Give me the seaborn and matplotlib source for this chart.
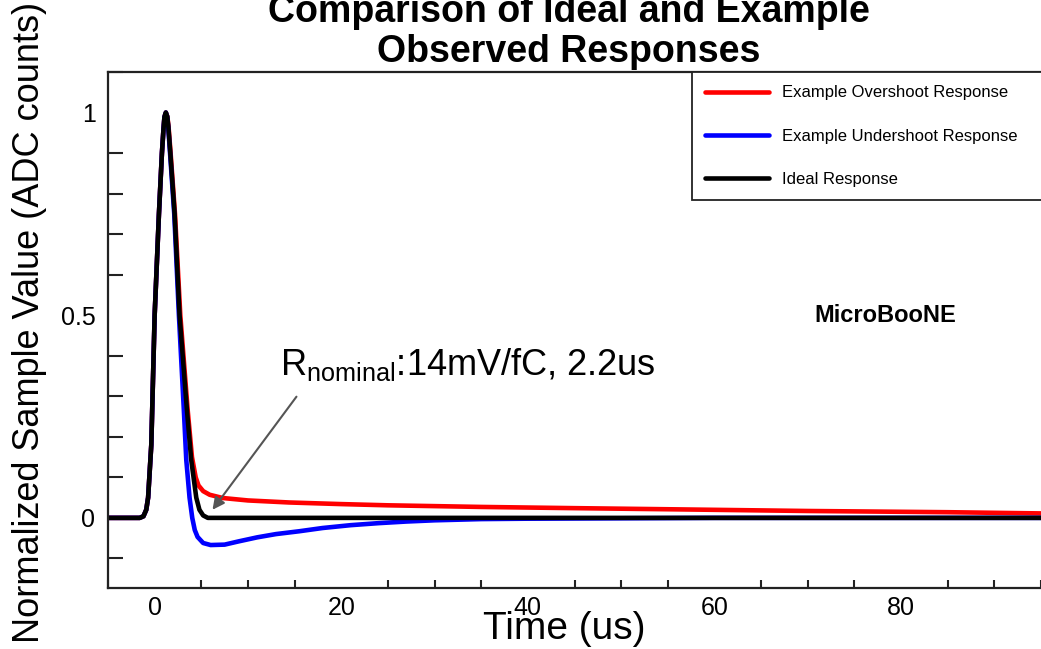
import seaborn as sns
import matplotlib.pyplot as plt
from matplotlib.ticker import MultipleLocator, FixedLocator, FuncFormatter

# Leading edge shared by all three pulses (time in us, normalized amplitude)
rise_t = [-5.0, -1.6, -1.2, -0.9, -0.7, -0.36, 0.0, 0.46, 0.78, 0.95, 1.05, 1.2]
rise_v = [0.0, 0.0, 0.004, 0.02, 0.05, 0.18, 0.5, 0.75, 0.9, 0.96, 0.989, 1.0]

# Falling edge and tail of each response
ideal_tail_t = [1.35, 1.47, 1.68, 2.14, 2.67, 3.46, 3.92, 4.46, 4.8, 5.2, 5.7, 95.0]
ideal_tail_v = [0.99, 0.965, 0.9, 0.75, 0.5, 0.266, 0.143, 0.05, 0.02, 0.006, 0.0, 0.0]

over_tail_t = [1.36, 1.49, 1.71, 2.18, 2.75, 3.54, 4.0, 4.4, 4.7, 5.2, 5.9, 7.3, 10.0,
               14.4, 20.0, 25.0, 35.0, 45.0, 56.0, 70.0, 85.0, 95.0]
over_tail_v = [0.99, 0.965, 0.9, 0.75, 0.5, 0.266, 0.15, 0.1, 0.08, 0.066, 0.057, 0.049,
               0.043, 0.038, 0.034, 0.031, 0.027, 0.024, 0.021, 0.017, 0.014, 0.011]

under_tail_t = [1.34, 1.45, 1.65, 2.1, 2.6, 3.13, 3.39, 3.74, 4.03, 4.3, 4.6, 5.2, 6.0,
                7.5, 9.0, 11.0, 13.0, 15.5, 18.0, 21.0, 24.0, 27.0, 30.0, 35.0,
                40.0, 50.0, 60.0, 95.0]
under_tail_v = [0.99, 0.965, 0.9, 0.75, 0.5, 0.266, 0.143, 0.05, 0.0, -0.03, -0.047,
                -0.062, -0.067, -0.066, -0.058, -0.048, -0.04, -0.033, -0.025,
                -0.018, -0.013, -0.009, -0.006, -0.003, -0.002, -0.001, 0.0, 0.0]

series_labels = ["Example Overshoot Response", "Example Undershoot Response", "Ideal Response"]
series_colors = ["#ff0000", "#0000ff", "#000000"]

x_ticks = [0, 20, 40, 60, 80]
y_ticks = [0, 0.5, 1]

note_text = r"R$_{\mathregular{nominal}}$:14mV/fC, 2.2us"
note_pos = (13.4, 0.353)
arrow_tail = (15.2, 0.299)
arrow_head = (6.2, 0.02)

sns.set_theme(style="white")
plt.rcParams["font.family"] = ["Liberation Sans", "DejaVu Sans"]
plt.rcParams["text.color"] = "black"
plt.rcParams["axes.labelcolor"] = "black"
plt.rcParams["xtick.color"] = "black"
plt.rcParams["ytick.color"] = "black"
plt.rcParams["mathtext.fontset"] = "custom"
plt.rcParams["mathtext.rm"] = "Liberation Sans"
plt.rcParams["mathtext.it"] = "Liberation Sans:italic"
plt.rcParams["mathtext.bf"] = "Liberation Sans:bold"

W, H = 1041, 649
fig = plt.figure(figsize=(W / 100, H / 100), dpi=100)
ax = fig.add_axes([108 / W, 1 - 588 / H, 933 / W, (588 - 72) / H])

curves = [
    (rise_t + over_tail_t, rise_v + over_tail_v),
    (rise_t + under_tail_t, rise_v + under_tail_v),
    (rise_t + ideal_tail_t, rise_v + ideal_tail_v),
]
for (t, v), lab, col in zip(curves, series_labels, series_colors):
    sns.lineplot(x=t, y=v, ax=ax, color=col, lw=3.3, label=lab,
                 sort=False, estimator=None)

ax.set_xlim(-5, 95)
ax.set_ylim(-0.173, 1.1)

ax.xaxis.set_major_locator(FixedLocator(x_ticks))
ax.xaxis.set_minor_locator(MultipleLocator(5))
ax.yaxis.set_major_locator(FixedLocator(y_ticks))
ax.yaxis.set_minor_locator(MultipleLocator(0.1))
ax.yaxis.set_major_formatter(FuncFormatter(lambda v, p: f"{v:g}"))

ax.tick_params(axis="x", which="major", direction="in", length=11, width=1.5,
               color="#222", labelsize=18, pad=6, labelcolor="black")
ax.tick_params(axis="x", which="minor", direction="in", length=5.5, width=1.5,
               color="#222", bottom=True)
ax.tick_params(axis="y", which="major", direction="in", length=21, width=1.5,
               color="#222", labelsize=18, pad=9, labelcolor="black")
ax.tick_params(axis="y", which="minor", direction="in", length=11, width=1.5,
               color="#222", left=True)

for side in ["top", "left", "bottom"]:
    ax.spines[side].set_visible(True)
    ax.spines[side].set_color("#222")
    ax.spines[side].set_linewidth(1.6)
ax.spines["right"].set_visible(False)

ax.set_xlabel("Time (us)", fontsize=28)
ax.xaxis.label.set_va("center")
ax.xaxis.set_label_coords((564 - 108) / 933, (588 - 629) / 516)
ax.set_ylabel("Normalized Sample Value (ADC counts)", fontsize=26)
ax.yaxis.label.set_va("center")
ax.yaxis.set_label_coords((30 - 108) / 933, (588 - 322) / 516)

fig.text(569 / W, 1 - 70 / H, "Comparison of Ideal and Example\nObserved Responses",
         ha="center", va="bottom", fontsize=27, fontweight="bold", linespacing=1.13)

ax.text(70.7, 0.5, "MicroBooNE", fontsize=17, fontweight="bold", va="center", ha="left")

ax.text(note_pos[0], note_pos[1], note_text, fontsize=26, va="baseline", ha="left")
ax.annotate("", xy=arrow_head, xytext=arrow_tail,
            arrowprops=dict(arrowstyle="-|>", color="#555555", lw=1.5,
                            mutation_scale=18, shrinkA=0, shrinkB=0))

leg = ax.legend(loc="upper left", bbox_to_anchor=((692 - 108) / 933, 0, 0.5, 1.0),
                mode="expand", borderaxespad=0, frameon=True, fancybox=False,
                edgecolor="#222", fontsize=12, handlelength=3.8, handletextpad=0.8,
                labelspacing=1.7, borderpad=0.8)
leg.get_frame().set_linewidth(1.3)
leg.get_frame().set_alpha(1)
for txt in leg.get_texts():
    txt.set_color("black")

fig.savefig("out.png", dpi=100)
